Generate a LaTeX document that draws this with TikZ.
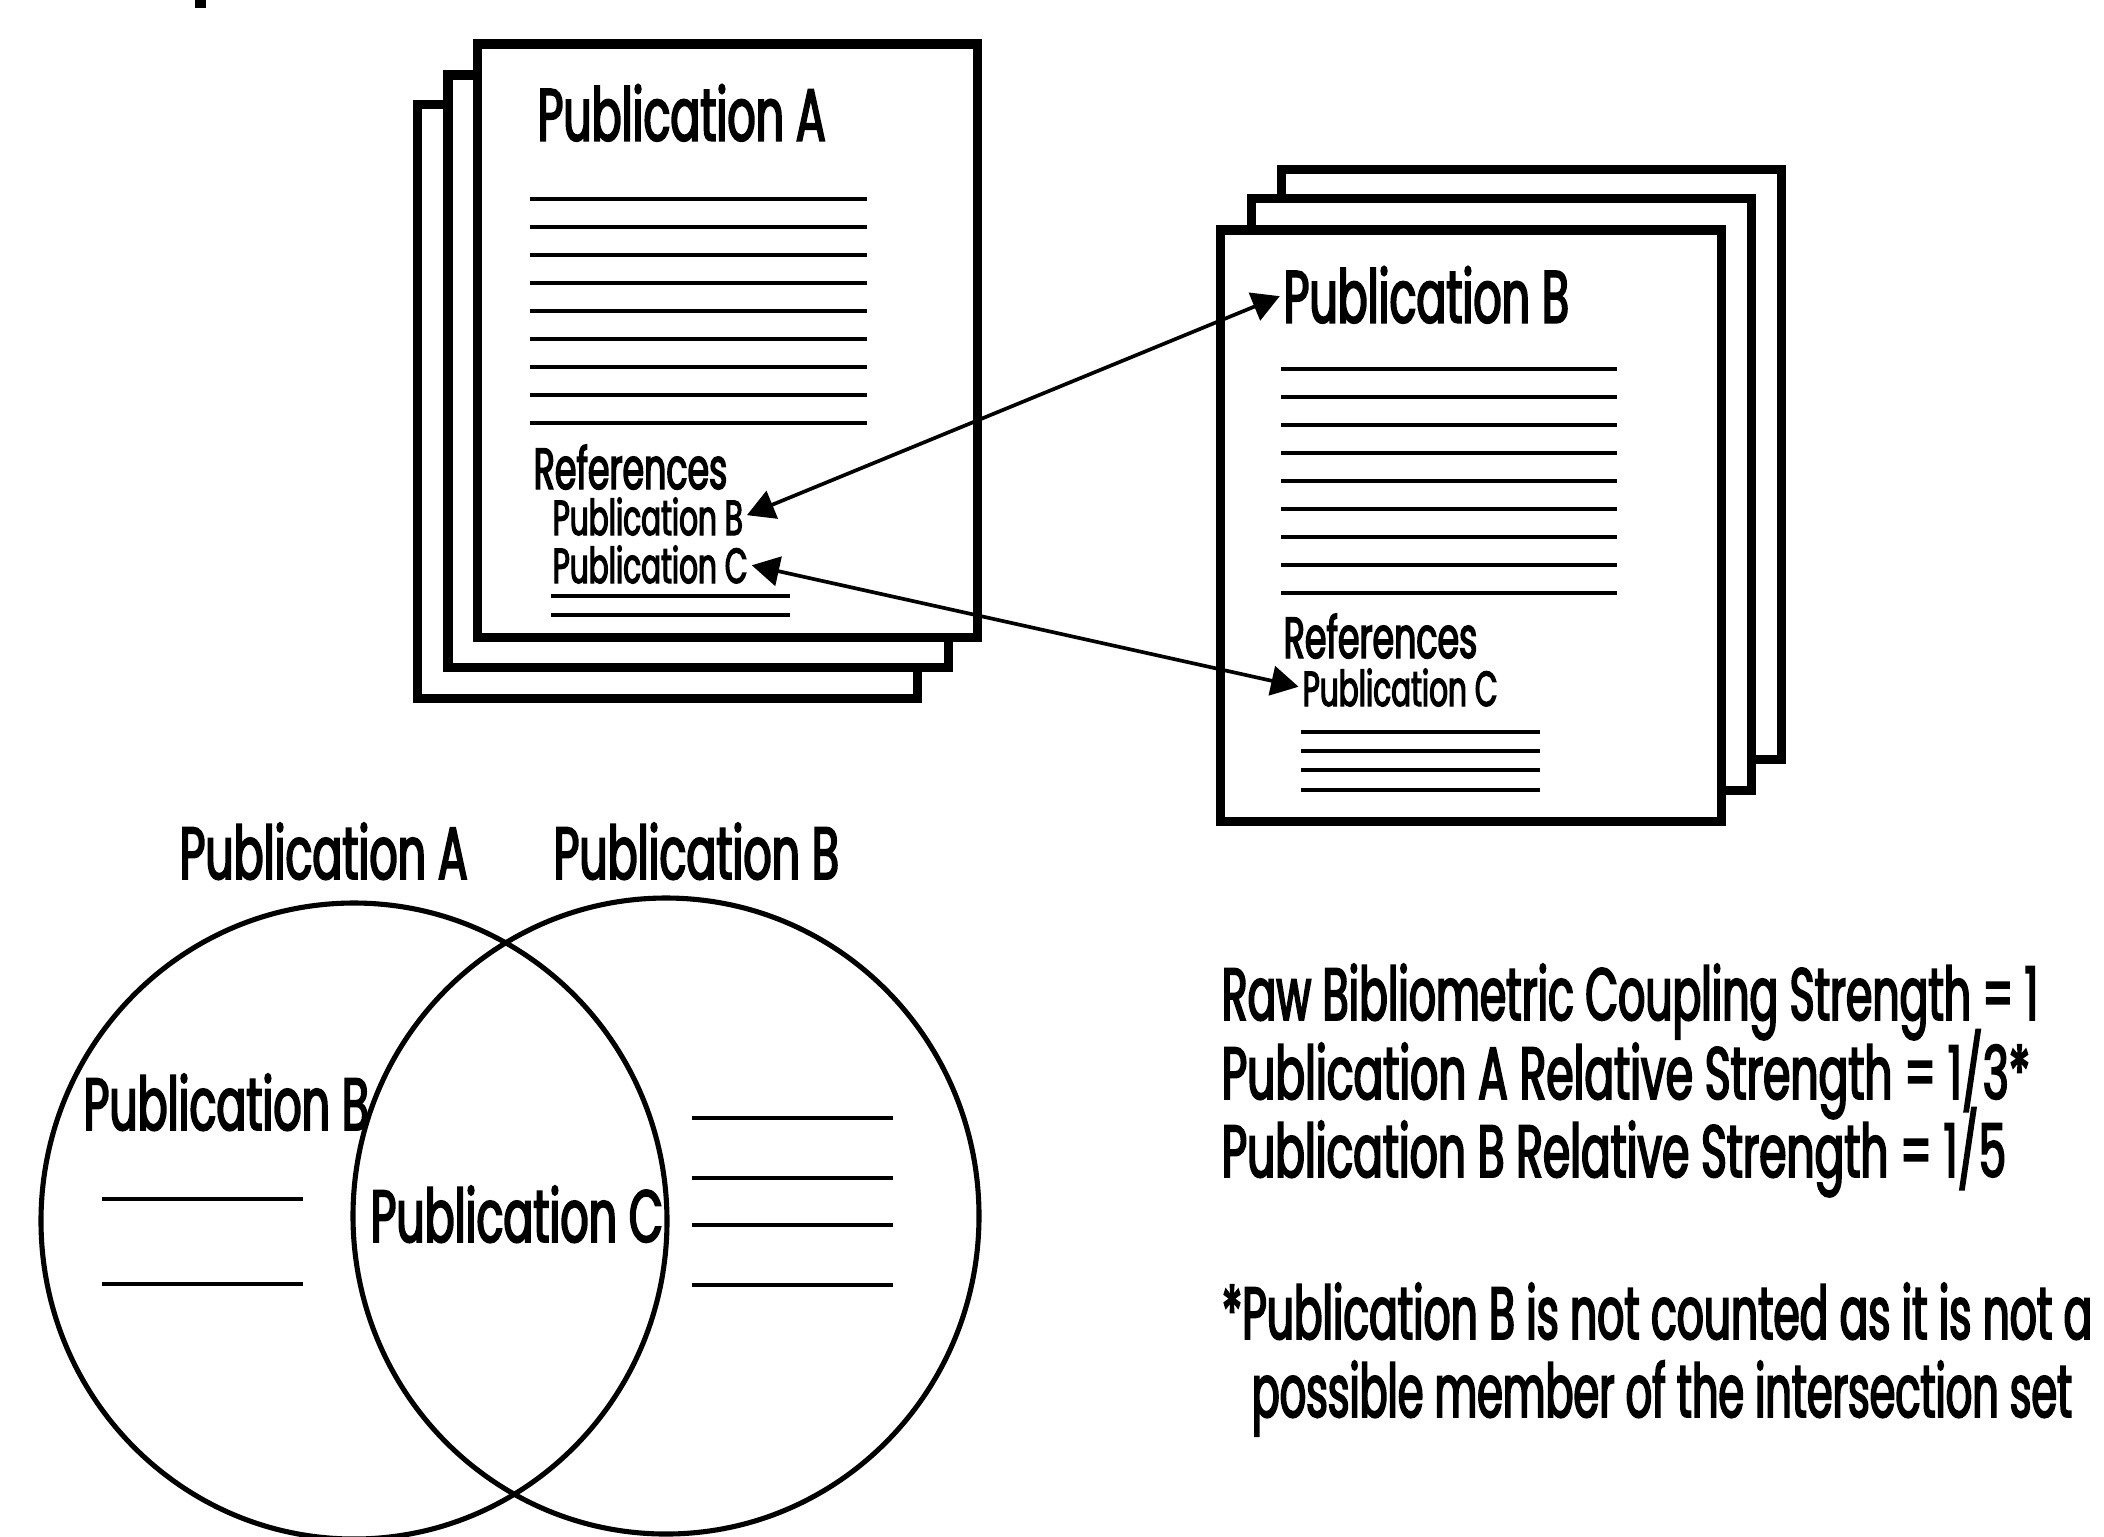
\documentclass[tikz,border=0pt]{standalone}
\usepackage{fontspec}
\usepackage{graphicx}
\usetikzlibrary{arrows.meta}
\setmainfont{Poppins}[FakeStretch=0.6, FakeBold=2.5]
\newcommand\bigfont{\fontsize{21pt}{25pt}\selectfont}
\newcommand\midfont{\fontsize{16.5pt}{19pt}\selectfont}
\newcommand\smallfont{\fontsize{14pt}{17pt}\selectfont}
% set a line to a given width (in picture units of 0.01cm) by horizontal scaling
\newlength\fitlen
\newcommand\fitw[2]{\settowidth\fitlen{#2}\scalebox{\fpeval{#1*0.284528/\fitlen}}[1]{#2}}
\tikzset{
  pagebox/.style={draw=black, fill=white, line width=2.6pt},
  rule/.style={line width=1.4pt},
  ring/.style={line width=1.45pt},
  lbl/.style={anchor=base west, inner sep=0pt, font=\bigfont},
  mid/.style={anchor=base west, inner sep=0pt, font=\midfont},
  sml/.style={anchor=base west, inner sep=0pt, font=\smallfont},
  link/.style={line width=1.05pt, shorten <=1pt, shorten >=1pt,
    {Triangle[length=7.8pt,width=8.4pt]}-{Triangle[length=7.8pt,width=8.4pt]}}
}
\begin{document}
\begin{tikzpicture}[x=0.01cm, y=-0.01cm]
\useasboundingbox[fill=white] (0,0) rectangle (2104,1536);
\clip (0,0) rectangle (2104,1536);

% fragment at the top edge
\fill (195,0) rectangle (206,8);

% ---- stack of pages: publication A ----
\draw[pagebox] (417.6,104.8) rectangle (917.6,698.6);
\draw[pagebox] (448,75) rectangle (948.6,667.3);
\draw[pagebox] (477.5,44) rectangle (977.7,637.4);
\node[lbl] (titleA) at (537,140.6) {Publication A};
\foreach \i in {0,...,8}
  \draw[rule] (530,199+28*\i) -- (867,199+28*\i);
\node[mid] (refA)  at (533,489) {References};
\node[sml] (refAb) at (552,535) {Publication B};
\node[sml] (refAc) at (552,583) {Publication C};
\draw[rule] (551,596) -- (790,596);
\draw[rule] (551,615) -- (790,615);

% ---- stack of pages: publication B ----
\draw[pagebox] (1281.5,169.5) rectangle (1781.7,759.3);
\draw[pagebox] (1251.7,198.6) rectangle (1751.8,790.8);
\draw[pagebox] (1220.7,230) rectangle (1721.8,821.1);
\node[lbl] (titleB) at (1283,322.6) {Publication B};
\foreach \i in {0,...,8}
  \draw[rule] (1281,369+28*\i) -- (1617,369+28*\i);
\node[mid] (refB)  at (1283,658) {References};
\node[sml] (refBc) at (1302,706) {Publication C};
\foreach \y in {732,751,770,790}
  \draw[rule] (1301,\y) -- (1540,\y);

% ---- citation links ----
\draw[link] (refAb.east) -- (titleB.west);
\draw[link] (refAc.east) -- (refBc.west);

% ---- Venn diagram of the reference sets ----
\draw[ring] (354,1221) ellipse [x radius=313, y radius=318];
\draw[ring] (666,1216) ellipse [x radius=313, y radius=318];
\node[lbl] (vennA) at (179,879) {Publication A};
\node[lbl] (vennB) at (553,879) {Publication B};
\node[lbl] (inB) at (83,1130) {Publication B};
\node[lbl] (inC) at (370,1242) {Publication C};
\draw[rule] (102,1199) -- (303,1199);
\draw[rule] (102,1284) -- (303,1284);
\foreach \y in {1118,1178,1225,1285}
  \draw[rule] (692,\y) -- (893,\y);

% ---- coupling strengths ----
\node[lbl] (raw)  at (1221,1020) {\fitw{816}{Raw Bibliometric Coupling Strength = 1}};
\node[lbl] (relA) at (1221,1099) {\fitw{808}{Publication A Relative Strength = 1/3*}};
\node[lbl] (relB) at (1221,1177) {\fitw{784}{Publication B Relative Strength = 1/5}};
\node[lbl] (note1) at (1221,1339) {\fitw{870}{*Publication B is not counted as it is not a}};
\node[lbl] (note2) at (1251,1417) {\fitw{820}{possible member of the intersection set}};
\end{tikzpicture}
\end{document}
